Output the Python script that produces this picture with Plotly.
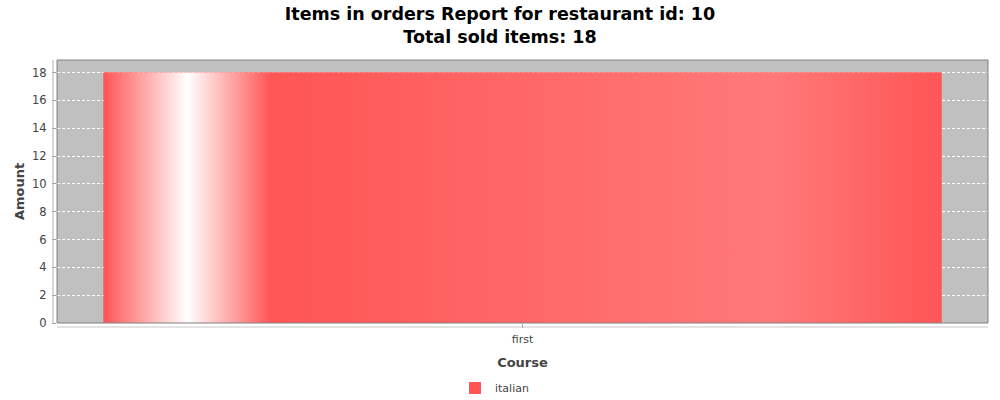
import plotly.graph_objects as go

# ---- data ----
categories = ["first"]
series_name = "italian"
values = [18]
y_tick_values = [0, 2, 4, 6, 8, 10, 12, 14, 16, 18]
title_text = "Items in orders Report for restaurant id: 10<br>Total sold items: 18"
x_title = "Course"
y_title = "Amount"

# ---- style ----
BASE = "#ff5555"
BRIGHT = "#ff7979"
BAR_W = 0.9
L, R, T, B = 57, 12, 60, 77
W, H = 1000, 400
PW, PH = W - L - R, H - T - B

x_pos = list(range(len(categories)))

fig = go.Figure()
fig.add_trace(go.Bar(
    x=x_pos, y=values, width=BAR_W, name=series_name,
    marker=dict(color=BASE, line=dict(width=0)),
    showlegend=True, hoverinfo="skip",
))
for i, v in zip(x_pos, values):
    x0, x1 = i - BAR_W / 2, i + BAR_W / 2
    fig.add_trace(go.Scatter(
        x=[x0, x1, x1, x0, x0], y=[0, 0, v, v, 0],
        fill="toself", mode="none",
        fillgradient=dict(
            type="horizontal",
            colorscale=[[0, BASE], [0.1, "#ffffff"], [0.2, BASE], [0.8, BRIGHT], [1, BASE]],
        ),
        showlegend=False, hoverinfo="skip",
    ))

ymax = max(values) * 1.05
fig.update_layout(
    width=W, height=H,
    margin=dict(l=L, r=R, t=T, b=B, autoexpand=False),
    paper_bgcolor="white",
    plot_bgcolor="#c0c0c0",
    font=dict(family="DejaVu Sans", color="#444444", size=11),
    title=dict(
        text=title_text, x=0.5, xanchor="center", y=1 - 20 / H, yanchor="middle",
        yref="container",
        font=dict(family="DejaVu Sans", size=17.5, color="black", weight="bold"),
    ),
    showlegend=True,
    legend=dict(
        orientation="h", x=0.5 - 28 / PW, xanchor="center", y=1 - 388 / H, yanchor="middle",
        yref="container", font=dict(size=11, color="#444444"),
        bgcolor="rgba(0,0,0,0)",
    ),
    xaxis=dict(
        range=[-0.5, len(categories) - 0.5],
        tickvals=x_pos, ticktext=categories,
        showgrid=False, zeroline=False, showline=False,
        ticks="outside", ticklen=4, tickcolor="#a0a0a0",
        ticklabelstandoff=2,
        tickfont=dict(size=11, color="#444444"),
        title=dict(text=x_title, standoff=12,
                   font=dict(size=13, color="#444444", weight="bold")),
        automargin=False,
        fixedrange=True,
    ),
    yaxis=dict(
        range=[0, ymax],
        tickvals=y_tick_values,
        showgrid=True, gridcolor="white", griddash="3px,2px", gridwidth=1,
        zeroline=False, showline=False,
        ticks="outside", ticklen=4, tickcolor="#a0a0a0",
        ticklabelstandoff=3,
        tickfont=dict(size=11.5, color="#444444"),
        title=dict(text=y_title, standoff=4,
                   font=dict(size=13, color="#444444", weight="bold")),
        automargin=False,
        fixedrange=True,
    ),
    shapes=[
        dict(type="rect", xref="paper", yref="paper", x0=0, x1=1, y0=0, y1=1,
             line=dict(color="#808080", width=1), layer="above"),
        dict(type="line", xref="paper", yref="paper", x0=-4 / PW, x1=-4 / PW, y0=0, y1=1,
             line=dict(color="#b0b0b0", width=1)),
        dict(type="line", xref="paper", yref="paper", x0=0, x1=1, y0=-4 / PH, y1=-4 / PH,
             line=dict(color="#c8c8c8", width=1)),
    ],
)

fig.write_html("out.html")
